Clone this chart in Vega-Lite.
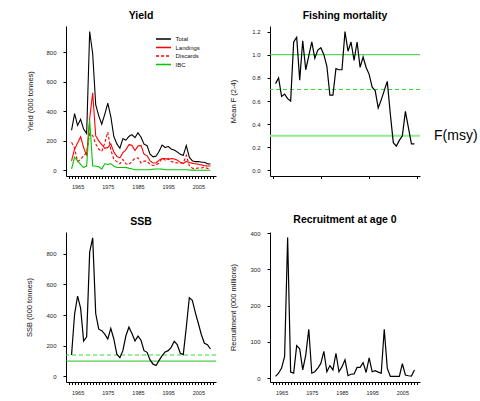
{
  "$schema": "https://vega.github.io/schema/vega-lite/v6.json",
  "background": "white",
  "padding": {"left": 25, "top": 10, "right": 0, "bottom": 0},
  "config": {
    "font": "Liberation Sans",
    "view": {"stroke": null},
    "axis": {"grid": false, "domainColor": "black", "domainWidth": 1, "tickColor": "black", "tickWidth": 1, "tickSize": 3, "labelColor": "#222", "labelFontSize": 6, "labelPadding": 7, "labelOverlap": false, "labelBound": false, "titleFontSize": 7.5, "titleFontWeight": "normal", "titleColor": "#111"},
    "axisY": {"labelOverlap": false, "labelFlush": false},
    "title": {"fontSize": 10.5, "fontWeight": "bold", "offset": 5, "anchor": "middle", "color": "black"}
  },
  "datasets": {
    "stock": [
      {"year":1963,"Total":272,"Landings":65,"Discards":190,"IBC":10,"F":0.75,"SSB":140,"Rec":5},
      {"year":1964,"Total":384,"Landings":145,"Discards":150,"IBC":90,"F":0.80,"SSB":405,"Rec":14},
      {"year":1965,"Total":305,"Landings":185,"Discards":60,"IBC":65,"F":0.64,"SSB":524,"Rec":28},
      {"year":1966,"Total":346,"Landings":228,"Discards":75,"IBC":40,"F":0.66,"SSB":445,"Rec":60},
      {"year":1967,"Total":280,"Landings":155,"Discards":100,"IBC":20,"F":0.62,"SSB":230,"Rec":388},
      {"year":1968,"Total":250,"Landings":100,"Discards":120,"IBC":30,"F":0.60,"SSB":258,"Rec":17},
      {"year":1969,"Total":940,"Landings":350,"Discards":250,"IBC":340,"F":1.11,"SSB":810,"Rec":14},
      {"year":1970,"Total":790,"Landings":525,"Discards":235,"IBC":30,"F":1.15,"SSB":903,"Rec":90},
      {"year":1971,"Total":445,"Landings":235,"Discards":180,"IBC":30,"F":0.78,"SSB":410,"Rec":81},
      {"year":1972,"Total":370,"Landings":200,"Discards":145,"IBC":25,"F":1.12,"SSB":308,"Rec":23},
      {"year":1973,"Total":313,"Landings":175,"Discards":128,"IBC":10,"F":0.87,"SSB":298,"Rec":64},
      {"year":1974,"Total":380,"Landings":150,"Discards":185,"IBC":45,"F":0.99,"SSB":276,"Rec":135},
      {"year":1975,"Total":455,"Landings":155,"Discards":260,"IBC":40,"F":1.11,"SSB":244,"Rec":14},
      {"year":1976,"Total":365,"Landings":180,"Discards":140,"IBC":45,"F":0.97,"SSB":313,"Rec":18},
      {"year":1977,"Total":230,"Landings":125,"Discards":75,"IBC":30,"F":1.04,"SSB":244,"Rec":28},
      {"year":1978,"Total":180,"Landings":95,"Discards":60,"IBC":20,"F":1.06,"SSB":145,"Rec":41},
      {"year":1979,"Total":150,"Landings":85,"Discards":45,"IBC":20,"F":1.00,"SSB":122,"Rec":74},
      {"year":1980,"Total":215,"Landings":120,"Discards":75,"IBC":20,"F":0.90,"SSB":168,"Rec":18},
      {"year":1981,"Total":205,"Landings":140,"Discards":45,"IBC":20,"F":0.65,"SSB":265,"Rec":35},
      {"year":1982,"Total":230,"Landings":175,"Discards":40,"IBC":15,"F":0.65,"SSB":321,"Rec":23},
      {"year":1983,"Total":242,"Landings":170,"Discards":62,"IBC":10,"F":0.88,"SSB":280,"Rec":69},
      {"year":1984,"Total":222,"Landings":135,"Discards":82,"IBC":5,"F":0.87,"SSB":231,"Rec":18},
      {"year":1985,"Total":255,"Landings":165,"Discards":85,"IBC":5,"F":0.87,"SSB":263,"Rec":32},
      {"year":1986,"Total":225,"Landings":170,"Discards":50,"IBC":5,"F":1.20,"SSB":236,"Rec":51},
      {"year":1987,"Total":178,"Landings":110,"Discards":63,"IBC":5,"F":1.03,"SSB":168,"Rec":7},
      {"year":1988,"Total":168,"Landings":100,"Discards":63,"IBC":5,"F":1.11,"SSB":157,"Rec":11},
      {"year":1989,"Total":110,"Landings":65,"Discards":40,"IBC":5,"F":0.95,"SSB":108,"Rec":12},
      {"year":1990,"Total":92,"Landings":50,"Discards":34,"IBC":8,"F":1.11,"SSB":80,"Rec":30},
      {"year":1991,"Total":97,"Landings":50,"Discards":37,"IBC":10,"F":0.89,"SSB":71,"Rec":30},
      {"year":1992,"Total":130,"Landings":70,"Discards":50,"IBC":10,"F":0.98,"SSB":105,"Rec":43},
      {"year":1993,"Total":172,"Landings":80,"Discards":84,"IBC":8,"F":0.89,"SSB":136,"Rec":16},
      {"year":1994,"Total":155,"Landings":80,"Discards":70,"IBC":5,"F":0.83,"SSB":160,"Rec":56},
      {"year":1995,"Total":162,"Landings":75,"Discards":82,"IBC":5,"F":0.72,"SSB":168,"Rec":18},
      {"year":1996,"Total":145,"Landings":80,"Discards":60,"IBC":5,"F":0.69,"SSB":190,"Rec":21},
      {"year":1997,"Total":138,"Landings":78,"Discards":55,"IBC":5,"F":0.54,"SSB":229,"Rec":17},
      {"year":1998,"Total":125,"Landings":70,"Discards":50,"IBC":5,"F":0.61,"SSB":207,"Rec":14},
      {"year":1999,"Total":110,"Landings":55,"Discards":50,"IBC":5,"F":0.69,"SSB":151,"Rec":135},
      {"year":2000,"Total":102,"Landings":48,"Discards":49,"IBC":5,"F":0.77,"SSB":142,"Rec":28},
      {"year":2001,"Total":168,"Landings":60,"Discards":103,"IBC":5,"F":0.49,"SSB":320,"Rec":5},
      {"year":2002,"Total":90,"Landings":55,"Discards":32,"IBC":3,"F":0.24,"SSB":513,"Rec":5},
      {"year":2003,"Total":65,"Landings":48,"Discards":15,"IBC":2,"F":0.21,"SSB":496,"Rec":5},
      {"year":2004,"Total":60,"Landings":45,"Discards":13,"IBC":2,"F":0.26,"SSB":416,"Rec":5},
      {"year":2005,"Total":60,"Landings":42,"Discards":17,"IBC":1,"F":0.30,"SSB":345,"Rec":40},
      {"year":2006,"Total":56,"Landings":38,"Discards":17,"IBC":1,"F":0.51,"SSB":272,"Rec":9},
      {"year":2007,"Total":55,"Landings":32,"Discards":22,"IBC":1,"F":0.37,"SSB":216,"Rec":7},
      {"year":2008,"Total":45,"Landings":30,"Discards":14,"IBC":1,"F":0.23,"SSB":207,"Rec":6},
      {"year":2009,"Total":43,"Landings":30,"Discards":12,"IBC":1,"F":0.23,"SSB":179,"Rec":23}
    ]
  },
  "columns": 2,
  "spacing": {"row": 56, "column": 54},
  "bounds": "flush",
  "concat": [
    {
      "width": 150, "height": 150,
      "title": "Yield",
      "data": {"name": "stock"},
      "transform": [{"fold": ["Total", "Landings", "Discards", "IBC"], "as": ["series", "value"]}],
      "mark": {"type": "line", "strokeWidth": 1.1},
      "encoding": {
        "x": {"field": "year", "type": "quantitative", "scale": {"domain": [1961.16, 2010.84], "nice": false, "zero": false},
              "axis": {"title": null, "values": [1962,1963,1964,1965,1966,1967,1968,1969,1970,1971,1972,1973,1974,1975,1976,1977,1978,1979,1980,1981,1982,1983,1984,1985,1986,1987,1988,1989,1990,1991,1992,1993,1994,1995,1996,1997,1998,1999,2000,2001,2002,2003,2004,2005,2006,2007,2008,2009,2010], "format": "d", "labelExpr": "datum.value % 10 == 5 ? datum.label : ''", "tickSize": 2.5, "labelPadding": 6, "labelOverlap": false, "labelFlush": false, "labelFontSize": 5.5}},
        "y": {"field": "value", "type": "quantitative", "scale": {"domain": [-37.6, 977.6], "nice": false, "zero": false},
              "axis": {"title": "Yield (000 tonnes)", "tickCount": 5, "labelOverlap": false, "titlePadding": 11}},
        "color": {"field": "series", "type": "nominal", "sort": ["Total", "Landings", "Discards", "IBC"],
                  "scale": {"domain": ["Total", "Landings", "Discards", "IBC"], "range": ["#000000", "#ff0000", "#ff0000", "#00c800"]},
                  "legend": {"orient": "none", "legendX": 93, "legendY": 8.5, "title": null, "symbolType": "M-2,0L2,0", "symbolSize": 56, "symbolStrokeWidth": 1.3, "labelFontSize": 6, "labelColor": "#111", "rowPadding": 0.5, "padding": 0, "labelOffset": 7.5}},
        "strokeDash": {"field": "series", "type": "nominal", "sort": ["Total", "Landings", "Discards", "IBC"],
                  "scale": {"domain": ["Total", "Landings", "Discards", "IBC"], "range": [[1, 0], [1, 0], [3, 2], [1, 0]]},
                  "legend": {"orient": "none", "legendX": 93, "legendY": 8.5, "title": null, "symbolType": "M-2,0L2,0", "symbolSize": 56, "symbolStrokeWidth": 1.3, "labelFontSize": 6, "labelColor": "#111", "rowPadding": 0.5, "padding": 0, "labelOffset": 7.5}}
      }
    },
    {
      "width": 150, "height": 150,
      "title": "Fishing mortality",
      "data": {"name": "stock"},
      "layer": [
        {"data": {"values": [{}]}, "mark": {"type": "rule", "stroke": "#33cc33", "strokeWidth": 1}, "encoding": {"y": {"datum": 1.0}}},
        {"data": {"values": [{}]}, "mark": {"type": "rule", "stroke": "#33dd33", "strokeWidth": 1.1, "strokeDash": [4, 3]}, "encoding": {"y": {"datum": 0.7}}},
        {"data": {"values": [{}]}, "mark": {"type": "rule", "stroke": "#90ee90", "strokeWidth": 2}, "encoding": {"y": {"datum": 0.3}}},
        {"mark": {"type": "line", "color": "black", "strokeWidth": 1.2},
         "encoding": {
          "x": {"field": "year", "type": "quantitative", "scale": {"domain": [1961.16, 2010.84], "nice": false, "zero": false},
                "axis": {"title": null, "values": [1962,1963,1964,1965,1966,1967,1968,1969,1970,1971,1972,1973,1974,1975,1976,1977,1978,1979,1980,1981,1982,1983,1984,1985,1986,1987,1988,1989,1990,1991,1992,1993,1994,1995,1996,1997,1998,1999,2000,2001,2002,2003,2004,2005,2006,2007,2008,2009,2010], "format": "d", "labelExpr": "datum.value % 10 == 5 ? datum.label : ''", "tickSize": 2.5, "labelPadding": 6, "labelOverlap": false, "labelFlush": false, "labelFontSize": 5.5}},
          "y": {"field": "F", "type": "quantitative", "scale": {"domain": [-0.048, 1.248], "nice": false, "zero": false},
                "axis": {"title": "Mean F (2-4)", "tickCount": 7, "format": ".1f", "labelOverlap": false, "titlePadding": 14}}
         }},
        {"data": {"values": [{}]}, "mark": {"type": "text", "text": "F(msy)", "align": "left", "baseline": "middle", "fontSize": 14, "color": "black", "clip": false},
         "encoding": {"x": {"datum": 2015.5}, "y": {"datum": 0.3}}}
      ]
    },
    {
      "width": 150, "height": 150,
      "title": "SSB",
      "data": {"name": "stock"},
      "layer": [
        {"data": {"values": [{}]}, "mark": {"type": "rule", "stroke": "#22c022", "strokeWidth": 1}, "encoding": {"y": {"datum": 100}}},
        {"data": {"values": [{}]}, "mark": {"type": "rule", "stroke": "#33dd33", "strokeWidth": 1.1, "strokeDash": [4, 3]}, "encoding": {"y": {"datum": 140}}},
        {"mark": {"type": "line", "color": "black", "strokeWidth": 1.2},
         "encoding": {
          "x": {"field": "year", "type": "quantitative", "scale": {"domain": [1961.16, 2010.84], "nice": false, "zero": false},
                "axis": {"title": null, "values": [1962,1963,1964,1965,1966,1967,1968,1969,1970,1971,1972,1973,1974,1975,1976,1977,1978,1979,1980,1981,1982,1983,1984,1985,1986,1987,1988,1989,1990,1991,1992,1993,1994,1995,1996,1997,1998,1999,2000,2001,2002,2003,2004,2005,2006,2007,2008,2009,2010], "format": "d", "labelExpr": "datum.value % 10 == 5 ? datum.label : ''", "tickSize": 2.5, "labelPadding": 6, "labelOverlap": false, "labelFlush": false, "labelFontSize": 5.5}},
          "y": {"field": "SSB", "type": "quantitative", "scale": {"domain": [-36.2, 941.2], "nice": false, "zero": false},
                "axis": {"title": "SSB (000 tonnes)", "tickCount": 5, "labelOverlap": false, "titlePadding": 12}}
         }}
      ]
    },
    {
      "width": 150, "height": 150,
      "title": "Recruitment at age 0",
      "data": {"name": "stock"},
      "mark": {"type": "line", "color": "black", "strokeWidth": 1.2},
      "encoding": {
        "x": {"field": "year", "type": "quantitative", "scale": {"domain": [1961.16, 2010.84], "nice": false, "zero": false},
              "axis": {"title": null, "values": [1962,1963,1964,1965,1966,1967,1968,1969,1970,1971,1972,1973,1974,1975,1976,1977,1978,1979,1980,1981,1982,1983,1984,1985,1986,1987,1988,1989,1990,1991,1992,1993,1994,1995,1996,1997,1998,1999,2000,2001,2002,2003,2004,2005,2006,2007,2008,2009,2010], "format": "d", "labelExpr": "datum.value % 10 == 5 ? datum.label : ''", "tickSize": 2.5, "labelPadding": 6, "labelOverlap": false, "labelFlush": false, "labelFontSize": 5.5}},
        "y": {"field": "Rec", "type": "quantitative", "scale": {"domain": [-10.3, 403.3], "nice": false, "zero": false},
              "axis": {"title": "Recruitment (000 millions)", "tickCount": 4, "labelOverlap": false, "titlePadding": 12}}
      }
    }
  ]
}
